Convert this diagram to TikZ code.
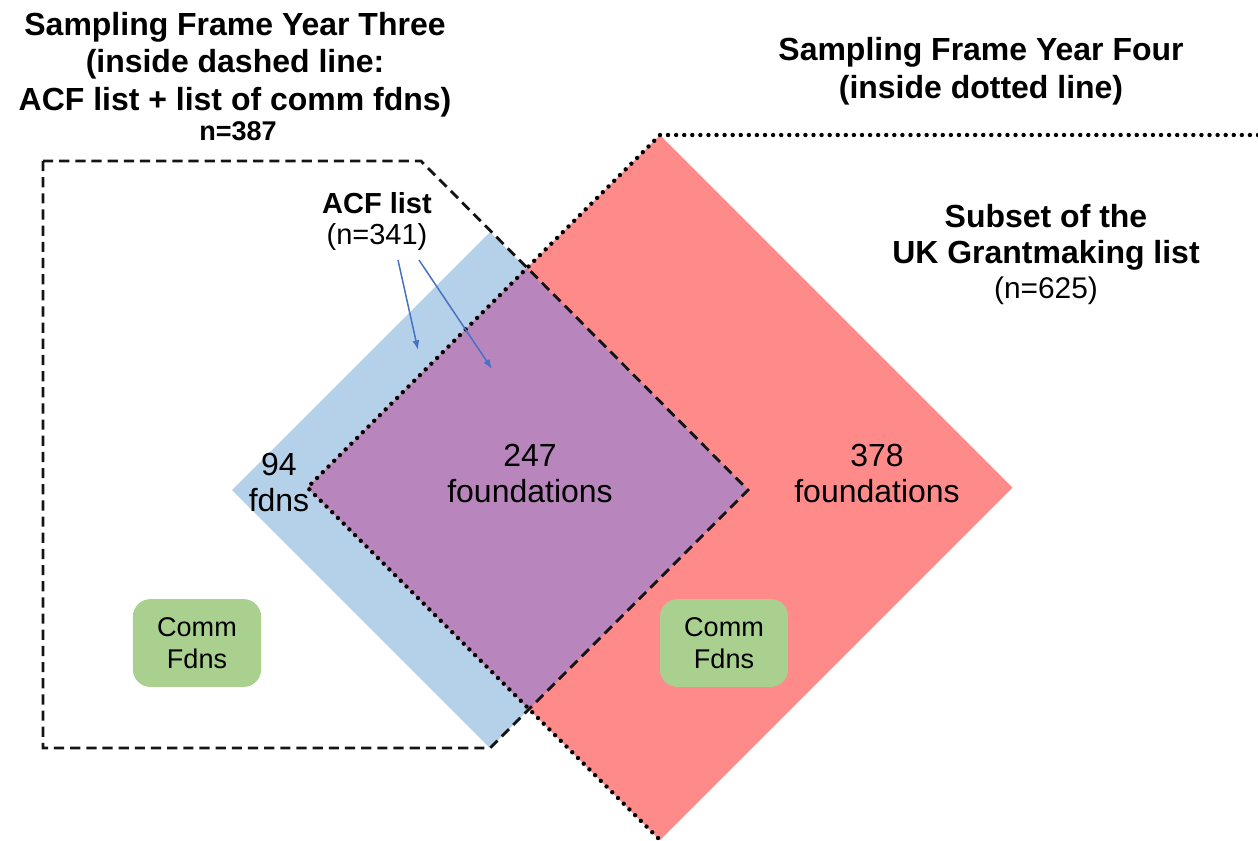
\documentclass[tikz,border=0pt]{standalone}
\usepackage{fontspec}
\setmainfont{Liberation Sans}
\usetikzlibrary{arrows.meta}

\definecolor{acfblue}{RGB}{181,209,234}
\definecolor{ukred}{RGB}{255,138,138}
\definecolor{overlap}{RGB}{184,134,188}
\definecolor{commgreen}{RGB}{169,208,142}
\definecolor{pointer}{RGB}{68,114,196}
\definecolor{ink}{RGB}{20,20,20}

\tikzset{
  frameA/.style={draw=ink, line width=1.6pt, dash pattern=on 5.8pt off 3.4pt},
  frameB/.style={draw=black, line width=2.5pt, dash pattern=on 0pt off 4.6pt, line cap=round},
  commbox/.style={fill=commgreen, rounded corners=10pt, minimum width=73pt, minimum height=50pt,
    inner sep=0pt, align=center, font=\fontsize{15.4}{18.2}\selectfont},
  % multi-line nodes: the base anchor sits on the last line's baseline
  headline/.style={font=\fontsize{18.2}{21.2}\selectfont\bfseries, align=center, anchor=base, inner sep=0pt},
  bodytext/.style={font=\fontsize{18.2}{20.2}\selectfont, align=center, anchor=base, inner sep=0pt},
  pointerarrow/.style={draw=pointer, line width=0.85pt, -{Latex[length=5.5pt,width=4pt]}}
}

\begin{document}
\begin{tikzpicture}[x=0.02cm, y=-0.02cm]
  \useasboundingbox (0,0) rectangle (1258,840);

  % the two lists as rotated squares, and their overlap
  \fill[acfblue] (232,490) -- (490,232) -- (748,490) -- (490,748) -- cycle;
  \fill[ukred] (660,135) -- (1012.5,487.5) -- (660,840) -- (307.5,487.5) -- cycle;
  \fill[overlap] (307.5,487.5) -- (526.5,268.5) -- (748,490) -- (529,709) -- cycle;

  % year three frame (dashed) and year four frame (dotted)
  \draw[frameA] (43,161) -- (421,161) -- (748,490) -- (490,748) -- (43,748) -- cycle;
  \draw[frameB] (1258,135) -- (660,135) -- (307.5,487.5) -- (660,840);

  % community foundation boxes
  \node[commbox] (commL) at (197,643) {Comm\\Fdns};
  \node[commbox] (commR) at (724,643) {Comm\\Fdns};

  % headings
  \node[headline] (yearthree) at (235,110) {Sampling Frame Year Three\\(inside dashed line:\\ACF list + list of comm fdns)};
  \node[font=\fontsize{15.4}{18}\selectfont\bfseries, anchor=base, inner sep=0pt] (n387) at (238,140) {n=387};
  \node[headline] (yearfour) at (981,98) {Sampling Frame Year Four\\(inside dotted line)};
  \node[headline, font=\fontsize{18.2}{20}\selectfont\bfseries] (uksubset) at (1046,263) {Subset of the\\UK Grantmaking list};
  \node[bodytext, font=\fontsize{17}{20}\selectfont] (n625) at (1046,298) {(n=625)};

  % ACF list label and its pointers
  \node[font=\fontsize{16.5}{17.5}\selectfont, align=center, anchor=base, inner sep=0pt] (acf) at (377,244) {{\bfseries ACF list}\\(n=341)};
  \coordinate (p1s) at (398,260);
  \coordinate (p1e) at (418,350);
  \coordinate (p2s) at (419,260);
  \coordinate (p2e) at (492,369);
  \draw[pointerarrow] (p1s) -- (p1e);
  \draw[pointerarrow] (p2s) -- (p2e);

  % counts
  \node[bodytext] (c94) at (279,511) {94\\fdns};
  \node[bodytext] (c247) at (530,502) {247\\foundations};
  \node[bodytext] (c378) at (877,502) {378\\foundations};
\end{tikzpicture}
\end{document}
